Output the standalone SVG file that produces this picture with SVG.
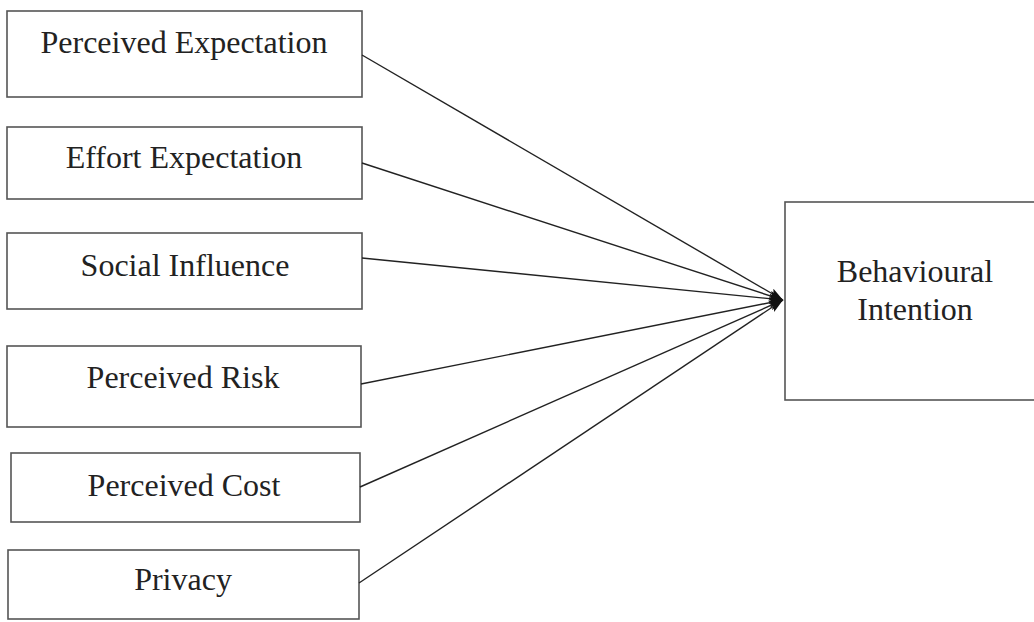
<svg xmlns="http://www.w3.org/2000/svg" width="1034" height="622" viewBox="0 0 1034 622">
<style>
.box{fill:#fff;stroke:#555;stroke-width:1.6}
.lbl{font-family:"Liberation Serif","Times New Roman",serif;font-size:32px;fill:#222;text-anchor:middle}
.con{stroke:#222;stroke-width:1.4;fill:none;marker-end:url(#ah)}
</style>
<defs>
<marker id="ah" viewBox="0 0 14 10" refX="14" refY="5" markerWidth="14" markerHeight="10" markerUnits="userSpaceOnUse" orient="auto">
<path d="M0,0 L14,5 L0,10 L3,5 z" fill="#111"/>
</marker>
</defs>
<rect width="1034" height="622" fill="#fff"/>
<g id="n1"><rect class="box" x="7" y="11" width="355" height="86"/><text class="lbl" x="184" y="53">Perceived Expectation</text></g>
<g id="n2"><rect class="box" x="7" y="127" width="355" height="72"/><text class="lbl" x="184" y="168">Effort Expectation</text></g>
<g id="n3"><rect class="box" x="7" y="233" width="355" height="76"/><text class="lbl" x="185" y="276">Social Influence</text></g>
<g id="n4"><rect class="box" x="7" y="346" width="354" height="81"/><text class="lbl" x="183" y="388">Perceived Risk</text></g>
<g id="n5"><rect class="box" x="11" y="453" width="349" height="69"/><text class="lbl" x="184" y="496">Perceived Cost</text></g>
<g id="n6"><rect class="box" x="8" y="550" width="351" height="69"/><text class="lbl" x="183" y="590">Privacy</text></g>
<g id="n7"><rect class="box" x="785" y="202" width="260" height="198"/><text class="lbl" x="915" y="282">Behavioural</text><text class="lbl" x="915" y="320">Intention</text></g>
<g id="connectors">
<line class="con" x1="362" y1="55" x2="783" y2="300"/>
<line class="con" x1="362" y1="163" x2="783" y2="300"/>
<line class="con" x1="362" y1="258" x2="783" y2="300"/>
<line class="con" x1="361" y1="384" x2="783" y2="300"/>
<line class="con" x1="360" y1="487" x2="783" y2="300"/>
<line class="con" x1="359" y1="583" x2="783" y2="300"/>
</g>
</svg>
